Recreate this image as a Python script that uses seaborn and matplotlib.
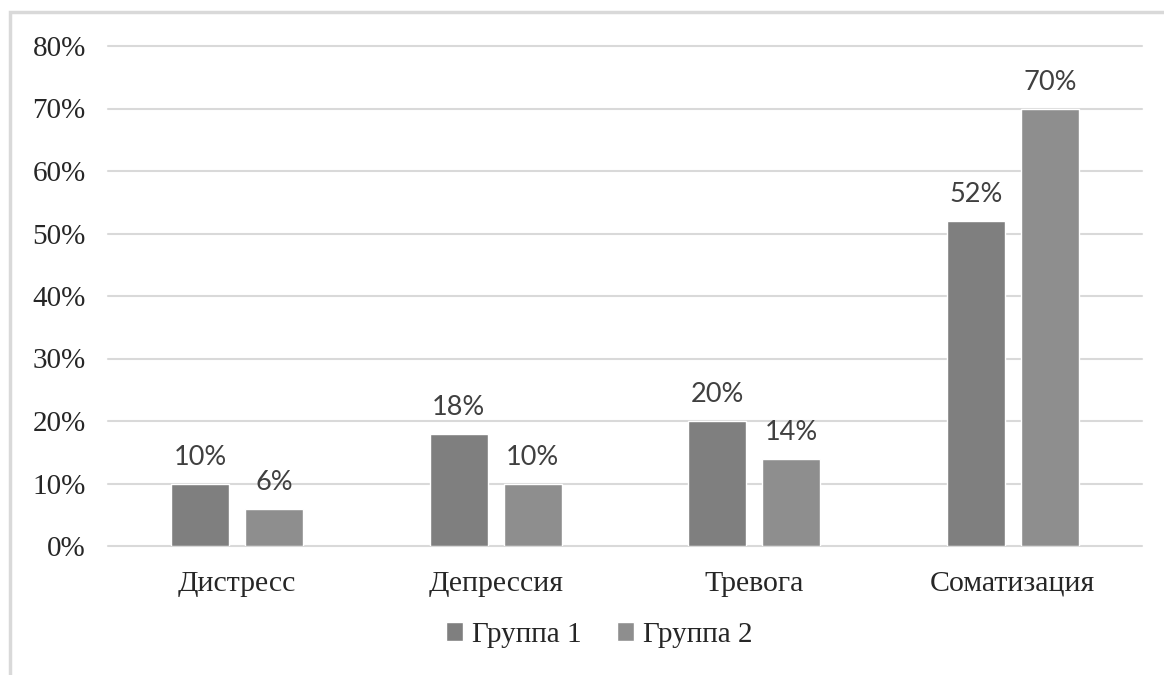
import numpy as np
import pandas as pd
import matplotlib
matplotlib.use("Agg")
import matplotlib.pyplot as plt
import seaborn as sns
from matplotlib.patches import Rectangle
from matplotlib.ticker import PercentFormatter

# data
categories = ["Дистресс", "Депрессия", "Тревога", "Соматизация"]
group1 = [0.10, 0.18, 0.20, 0.52]
group2 = [0.06, 0.10, 0.14, 0.70]
series_names = ["Группа 1", "Группа 2"]
yticks = [0, 0.1, 0.2, 0.3, 0.4, 0.5, 0.6, 0.7, 0.8]

df = pd.DataFrame({
    "category": categories * 2,
    "value": group1 + group2,
    "group": [series_names[0]] * 4 + [series_names[1]] * 4,
})

sns.set_theme(style="white")
plt.rcParams["font.family"] = ["Liberation Serif", "DejaVu Serif"]

fig = plt.figure(figsize=(11.64, 6.75), dpi=100)
ax = fig.add_axes([108 / 1164, 129 / 675, 1034 / 1164, 500 / 675])

sns.barplot(data=df, x="category", y="value", hue="group", order=categories,
            hue_order=series_names, palette=["#7f7f7f", "#8e8e8e"],
            width=0.573, gap=0.22, ax=ax, legend=True)

for cont in ax.containers:
    ax.bar_label(cont, labels=[f"{v * 100:.0f}%" for v in cont.datavalues],
                 padding=10, fontsize=19.5, family="Lato", color="#404040")

ax.set_ylim(0, 0.8)
ax.set_yticks(yticks)
ax.yaxis.set_major_formatter(PercentFormatter(1.0, decimals=0))
ax.grid(axis="y", color="#d9d9d9", linewidth=1.5)
ax.set_axisbelow(True)
for s in ax.spines.values():
    s.set_visible(False)
ax.tick_params(axis="y", length=0, pad=16, labelsize=21, labelcolor="#262626")
ax.tick_params(axis="x", length=0, pad=18, labelsize=21.5, labelcolor="#262626")
ax.set_xlabel("")
ax.set_ylabel("")

for line in ax.get_ygridlines():
    line.set_clip_on(False)

ax.legend(loc="center", bbox_to_anchor=(599 / 1164, 40 / 675),
          bbox_transform=fig.transFigure, ncol=2, frameon=False,
          fontsize=21, handlelength=0.6, handleheight=0.6,
          handletextpad=0.3, columnspacing=1.2, labelcolor="#262626")

# outer chart frame (cropped at right/bottom)
fig.patches.append(Rectangle((10 / 1164, -0.1), 1.2, 0.1 + 663 / 675,
                             transform=fig.transFigure, fill=False,
                             edgecolor="#d9d9d9", linewidth=2.5))

fig.savefig("out.png", dpi=100, facecolor="white")
